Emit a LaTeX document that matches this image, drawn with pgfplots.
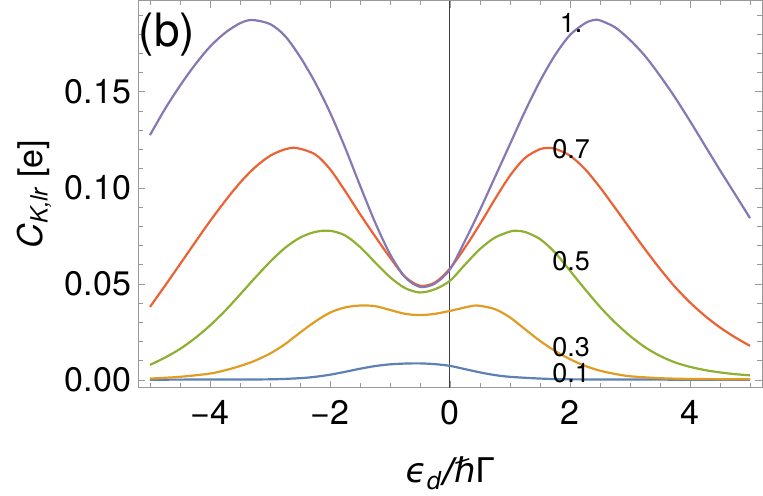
\documentclass[border=0pt]{standalone}
\usepackage{fontspec}
\setmainfont{TeX Gyre Heros}
\newfontfamily\dejavu{DejaVu Sans}
\usepackage{pgfplots}
\pgfplotsset{compat=1.18}

\definecolor{mmablue}{rgb}{0.368417,0.506779,0.709798}
\definecolor{mmaorange}{rgb}{0.880722,0.611041,0.142051}
\definecolor{mmagreen}{rgb}{0.560181,0.691569,0.194885}
\definecolor{mmared}{rgb}{0.922526,0.385626,0.209179}
\definecolor{mmapurple}{rgb}{0.528488,0.470624,0.701351}

\begin{document}
\begin{tikzpicture}
\begin{axis}[
  scale only axis,
  width=312pt, height=193.5pt,
  xmin=-5.2, xmax=5.2,
  ymin=-0.004, ymax=0.1974,
  axis line style={black!40},
  tick style={black!40},
  tick align=inside,
  major tick length=3.5pt, minor tick length=2.3pt,
  xtick={-4,-2,0,2,4},
  xticklabels={−4,−2,0,2,4},
  minor xtick={-5,-4.5,...,5},
  ytick={0,0.05,0.10,0.15},
  minor ytick={0,0.01,...,0.19},
  yticklabel style={/pgf/number format/.cd, fixed, fixed zerofill, precision=2, assume math mode=true},
  xticklabel style={yshift=-3pt},
  ticklabel style={font=\fontsize{17}{20}\selectfont},
  label style={font=\fontsize{17}{20}\selectfont},
  xlabel={{\dejavu\itshape ϵ\textsubscript{d}/ℏ\upshape Γ}},
  xlabel style={yshift=-9pt},
  ylabel={{\itshape C\textsubscript{K,lr}} [e]},
  clip=false,
]
\coordinate (sw) at (rel axis cs:0,0);
\coordinate (ne) at (rel axis cs:1,1);

\draw[black!75, line width=0.5pt] (axis cs:0,-0.004) -- (axis cs:0,0.1974);

% 0.1
\addplot[mmablue, line width=1.1pt, smooth] coordinates {
  (-5,0.0001) (-4,0.0002) (-3,0.0003) (-2.5,0.0009) (-2.25,0.0016) (-2,0.0027)
  (-1.75,0.0042) (-1.5,0.0058) (-1.25,0.0072) (-1,0.0081) (-0.75,0.0085)
  (-0.5,0.0086) (-0.25,0.0082) (0,0.0073) (0.25,0.0056) (0.5,0.0039)
  (0.75,0.0025) (1,0.0016) (1.5,0.0007) (2,0.0003) (3,0.0002) (4,0.0001) (5,0.0001)
};
% 0.3
\addplot[mmaorange, line width=1.1pt, smooth] coordinates {
  (-5,0.0007) (-4.5,0.0016) (-4,0.0033) (-3.75,0.0050) (-3.5,0.0072)
  (-3.25,0.0100) (-3,0.0137) (-2.75,0.0186) (-2.5,0.0246) (-2.25,0.0303)
  (-2,0.0350) (-1.75,0.0377) (-1.5,0.0387) (-1.25,0.0384) (-1,0.0364)
  (-0.75,0.0344) (-0.5,0.0337) (-0.25,0.0344) (0,0.0359) (0.25,0.0377)
  (0.45,0.0387) (0.75,0.0368) (1,0.0325) (1.25,0.0264) (1.5,0.0203)
  (1.75,0.0151) (2,0.0108) (2.25,0.0073) (2.5,0.0048) (2.75,0.0031)
  (3,0.0019) (3.5,0.0009) (4,0.0005) (5,0.0003)
};
% 0.5
\addplot[mmagreen, line width=1.1pt, smooth] coordinates {
  (-5,0.0078) (-4.75,0.0116) (-4.5,0.0161) (-4.25,0.0217) (-4,0.0283)
  (-3.75,0.0359) (-3.5,0.0444) (-3.25,0.0531) (-3,0.0614) (-2.75,0.0687)
  (-2.5,0.0740) (-2.25,0.0770) (-2,0.0776) (-1.75,0.0752) (-1.5,0.0692)
  (-1.25,0.0612) (-1,0.0535) (-0.75,0.0478) (-0.5,0.0455) (-0.25,0.0472)
  (0,0.0516) (0.25,0.0600) (0.5,0.0681) (0.75,0.0741) (1,0.0772)
  (1.1,0.0776) (1.25,0.0770) (1.5,0.0733) (1.75,0.0663) (2,0.0568)
  (2.25,0.0472) (2.5,0.0380) (2.75,0.0299) (3,0.0229) (3.25,0.0170)
  (3.5,0.0125) (3.75,0.0091) (4,0.0068) (4.25,0.0051) (4.5,0.0039)
  (4.75,0.0030) (5,0.0024)
};
% 0.7
\addplot[mmared, line width=1.1pt, smooth] coordinates {
  (-5,0.0380) (-4.75,0.0490) (-4.5,0.0602) (-4.25,0.0715) (-4,0.0826)
  (-3.75,0.0930) (-3.5,0.1026) (-3.25,0.1106) (-3,0.1166) (-2.75,0.1200)
  (-2.56,0.1207) (-2.25,0.1174) (-2,0.1097) (-1.75,0.0984) (-1.5,0.0863)
  (-1.25,0.0748) (-1,0.0637) (-0.75,0.0537) (-0.5,0.0490) (-0.25,0.0507)
  (0,0.0580) (0.25,0.0689) (0.5,0.0811) (0.75,0.0941) (1,0.1063)
  (1.25,0.1155) (1.5,0.1201) (1.64,0.1207) (1.75,0.1203) (2,0.1167)
  (2.25,0.1097) (2.5,0.1002) (2.75,0.0896) (3,0.0787) (3.25,0.0680)
  (3.5,0.0578) (3.75,0.0484) (4,0.0403) (4.25,0.0333) (4.5,0.0273)
  (4.75,0.0222) (5,0.0177)
};
% 1.0
\addplot[mmapurple, line width=1.1pt, smooth] coordinates {
  (-5,0.1274) (-4.75,0.1410) (-4.5,0.1531) (-4.25,0.1640) (-4,0.1734)
  (-3.75,0.1806) (-3.5,0.1856) (-3.3,0.1873) (-3,0.1852) (-2.75,0.1790)
  (-2.5,0.1682) (-2.25,0.1549) (-2,0.1392) (-1.75,0.1210) (-1.5,0.1012)
  (-1.25,0.0821) (-1,0.0655) (-0.75,0.0535) (-0.5,0.0484) (-0.25,0.0502)
  (0,0.0576) (0.25,0.0724) (0.5,0.0885) (0.75,0.1056) (1,0.1227)
  (1.25,0.1398) (1.5,0.1555) (1.75,0.1690) (2,0.1795) (2.25,0.1856)
  (2.4,0.1873) (2.5,0.1871) (2.75,0.1835) (3,0.1769) (3.25,0.1686)
  (3.5,0.1583) (3.75,0.1470) (4,0.1347) (4.25,0.1219) (4.5,0.1091)
  (4.75,0.0967) (5,0.0842)
};

\begin{scope}[every node/.style={font=\fontsize{13.5}{15}\selectfont, inner sep=0pt}]
\node at (axis cs:2.02,0.1860) {1.};
\node at (axis cs:2.02,0.1200) {0.7};
\node at (axis cs:2.02,0.0620) {0.5};
\node at (axis cs:2.02,0.0168) {0.3};
\node at (axis cs:2.02,0.0036) {0.1};
\end{scope}
\node[anchor=west, font=\fontsize{23}{26}\selectfont, inner sep=0pt] at (axis cs:-5.19,0.1795) {(b)};
\end{axis}
\pgfresetboundingbox
\path ([shift={(-69pt,-54pt)}]sw) rectangle ([shift={(0.5pt,0.3pt)}]ne);
\end{tikzpicture}
\end{document}
